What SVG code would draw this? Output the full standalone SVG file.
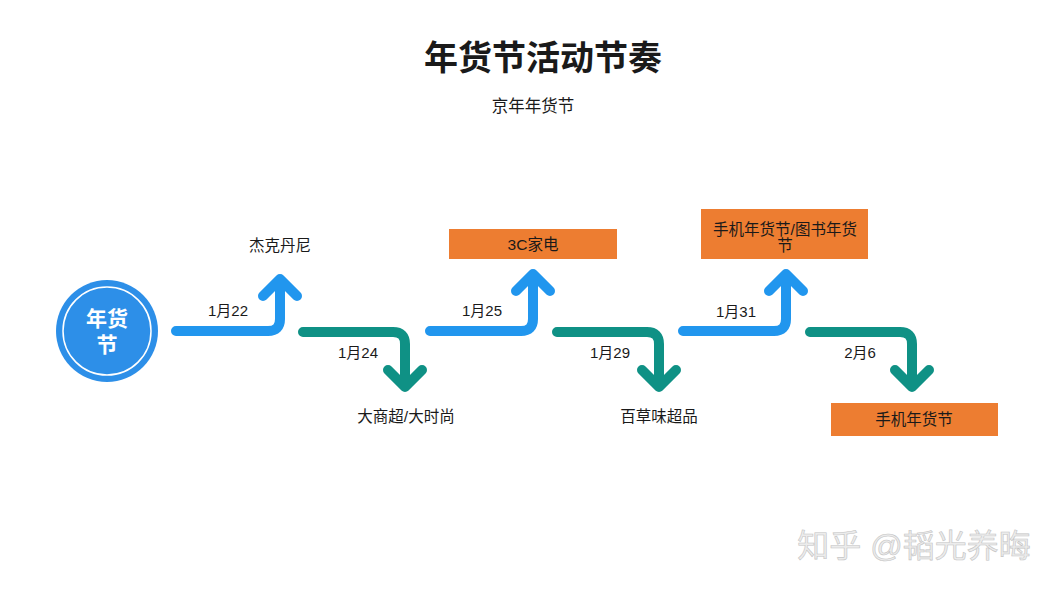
<svg xmlns="http://www.w3.org/2000/svg" width="1056" height="589" viewBox="0 0 1056 589">
<style>
text{font-family:"Liberation Sans","Noto Sans CJK SC",sans-serif;fill:#1a1a1a;text-anchor:middle}
.lbl{font-size:15.5px}
.dt{font-size:15px}
.up{fill:none;stroke:#2196EE;stroke-width:10;stroke-linecap:round;stroke-linejoin:round}
.dn{fill:none;stroke:#0F9185;stroke-width:10;stroke-linecap:round;stroke-linejoin:round}
.box{fill:#ED7D31}
</style>
<rect width="1056" height="589" fill="#ffffff"/>
<g id="title">
<text x="543" y="70" style="font-size:34px;font-weight:bold">年货节活动节奏</text>
<text x="533" y="112" style="font-size:16.5px">京年年货节</text>
</g>
<g id="connectors">
<path class="up" d="M176 331 H268 Q280 331 280 319 V280 M263 296 L280 279 L297 296"/>
<path class="dn" d="M303 332 H393 Q405 332 405 344 V386 M388 370 L405 387 L422 370"/>
<path class="up" d="M430 331 H521 Q533 331 533 319 V275 M516 291 L533 274 L550 291"/>
<path class="dn" d="M557 332 H647 Q659 332 659 344 V386 M642 370 L659 387 L676 370"/>
<path class="up" d="M683 331 H774 Q786 331 786 319 V275 M769 291 L786 274 L803 291"/>
<path class="dn" d="M810 332 H900 Q912 332 912 344 V386 M895 370 L912 387 L929 370"/>
<text class="dt" x="228" y="316">1月22</text>
<text class="dt" x="358" y="358">1月24</text>
<text class="dt" x="482" y="316">1月25</text>
<text class="dt" x="610" y="358">1月29</text>
<text class="dt" x="736" y="317">1月31</text>
<text class="dt" x="860" y="358">2月6</text>
</g>
<g id="start">
<circle cx="107" cy="331" r="51" fill="#2D8FE8"/>
<circle cx="107" cy="331" r="44" fill="none" stroke="#ffffff" stroke-width="1.5"/>
<text x="107" y="326" style="font-size:21px;font-weight:bold;fill:#ffffff">年货</text>
<text x="107" y="352" style="font-size:21px;font-weight:bold;fill:#ffffff">节</text>
</g>
<g id="n1"><text class="lbl" x="280" y="251">杰克丹尼</text></g>
<g id="n2"><text class="lbl" x="406" y="422">大商超/大时尚</text></g>
<g id="n3"><rect class="box" x="449" y="229" width="168" height="30"/><text class="lbl" x="533" y="250">3C家电</text></g>
<g id="n4"><text class="lbl" x="659" y="422">百草味超品</text></g>
<g id="n5"><rect class="box" x="701" y="209" width="167" height="50"/><text class="lbl" x="785" y="235">手机年货节/图书年货</text><text class="lbl" x="785" y="251">节</text></g>
<g id="n6"><rect class="box" x="831" y="403" width="167" height="33"/><text class="lbl" x="914" y="425">手机年货节</text></g>
<g id="watermark">
<text x="914" y="557" style="font-size:32px;fill:#ececec;stroke:#c4c4c4;stroke-width:0.6">知乎 @韬光养晦</text>
</g>
</svg>
